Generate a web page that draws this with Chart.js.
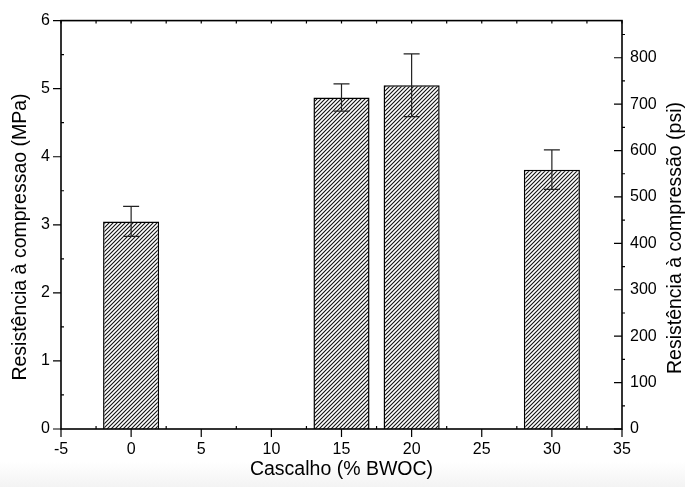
<!DOCTYPE html>
<html lang="pt">
<head>
<meta charset="utf-8">
<title>Resistência à compressão x Cascalho</title>
<script src="https://cdn.jsdelivr.net/npm/chart.js@4.4.1/dist/chart.umd.min.js"></script>
<style>
  html, body { margin: 0; padding: 0; }
  body {
    width: 685px;
    height: 487px;
    background: linear-gradient(#fff 0, #fff 462px, #f3f3f3 487px);
  }
  #chart-wrap { position: relative; width: 685px; height: 487px; }
  #chart-resistencia { display: block; }
</style>
</head>
<body>
<div id="chart-wrap"><canvas id="chart-resistencia" width="685" height="487"></canvas></div>
<script>
// Dados
const cascalho = [0, 15, 20, 30];               // % BWOC
const resistencia = [3.05, 4.87, 5.05, 3.81];   // MPa
const desvio = [0.22, 0.20, 0.46, 0.29];        // MPa (barra de erro)

// Escalas
const xTicks = [-5, 0, 5, 10, 15, 20, 25, 30, 35];
const mpaTicks = [0, 1, 2, 3, 4, 5, 6];
const psiTicks = [0, 100, 200, 300, 400, 500, 600, 700, 800];
const psiMax = 880;

const FONT = '"Liberation Sans", Arial, sans-serif';

/**
 * Hachura diagonal (/) para as barras
 */
function makeHatch() {
  const s = 4;
  const c = document.createElement('canvas');
  c.width = s;
  c.height = s;
  const g = c.getContext('2d');
  g.fillStyle = '#fff';
  g.fillRect(0, 0, s, s);
  g.strokeStyle = '#111';
  g.lineWidth = 1.1;
  g.beginPath();
  g.moveTo(0, s); g.lineTo(s, 0);
  g.moveTo(-1, 1); g.lineTo(1, -1);
  g.moveTo(s - 1, s + 1); g.lineTo(s + 1, s - 1);
  g.stroke();
  return g.createPattern(c, 'repeat');
}

/**
 * Barras de erro
 */
const errorBars = {
  id: 'errorBars',
  afterDatasetsDraw(chart) {
    const { ctx, scales } = chart;
    ctx.save();
    ctx.strokeStyle = '#222';
    ctx.lineWidth = 1.2;
    cascalho.forEach((c, i) => {
      const x = scales.x.getPixelForValue(c);
      const yTop = scales.y.getPixelForValue(resistencia[i] + desvio[i]);
      const yBot = scales.y.getPixelForValue(resistencia[i] - desvio[i]);
      ctx.beginPath();
      ctx.moveTo(x, yTop); ctx.lineTo(x, yBot);
      ctx.moveTo(x - 8, yTop); ctx.lineTo(x + 8, yTop);
      ctx.moveTo(x - 8, yBot); ctx.lineTo(x + 8, yBot);
      ctx.stroke();
    });
    ctx.restore();
  },
};

/**
 * Moldura, marcas dos eixos e títulos
 */
const frame = {
  id: 'frame',
  afterDraw(chart) {
    const { ctx, chartArea: a, scales } = chart;
    const line = (x1, y1, x2, y2) => {
      ctx.moveTo(x1, y1);
      ctx.lineTo(x2, y2);
    };
    ctx.save();
    ctx.strokeStyle = '#000';
    ctx.lineWidth = 1.6;
    ctx.strokeRect(a.left, a.top, a.right - a.left, a.bottom - a.top);

    ctx.lineWidth = 1.2;
    ctx.beginPath();
    // eixo x (baixo e topo)
    xTicks.forEach((v, i) => {
      const x = scales.x.getPixelForValue(v);
      line(x, a.bottom, x, a.bottom + 8);
      line(x, a.top, x, a.top + 3);
      if (i < xTicks.length - 1) {
        const xm = scales.x.getPixelForValue(v + 2.5);
        line(xm, a.bottom, xm, a.bottom - 3);
        line(xm, a.top, xm, a.top + 3);
      }
    });
    // eixo MPa (esquerda)
    mpaTicks.forEach((v, i) => {
      const y = scales.y.getPixelForValue(v);
      line(a.left - 8, y, a.left, y);
      if (i < mpaTicks.length - 1) {
        const ym = scales.y.getPixelForValue(v + 0.5);
        line(a.left, ym, a.left + 3, ym);
      }
    });
    // eixo psi (direita)
    psiTicks.forEach((v) => {
      const y = scales.y2.getPixelForValue(v);
      line(a.right - 8, y, a.right, y);
      const ym = scales.y2.getPixelForValue(v + 50);
      line(a.right, ym, a.right + 3, ym);
    });
    ctx.stroke();

    // títulos
    ctx.fillStyle = '#000';
    ctx.font = `19.5px ${FONT}`;
    ctx.textAlign = 'center';
    ctx.textBaseline = 'alphabetic';
    ctx.fillText('Cascalho (% BWOC)', (a.left + a.right) / 2, 475);

    ctx.save();
    ctx.translate(26, 237);
    ctx.rotate(-Math.PI / 2);
    ctx.fillText('Resistência à compressao (MPa)', 0, 0);
    ctx.restore();

    ctx.save();
    ctx.translate(681, 238);
    ctx.rotate(-Math.PI / 2);
    ctx.fillText('Resistência à compressão (psi)', 0, 0);
    ctx.restore();

    ctx.restore();
  },
};

const tickFont = { family: FONT, size: 16 };

new Chart(document.getElementById('chart-resistencia'), {
  type: 'bar',
  data: {
    datasets: [
      {
        label: 'Resistência à compressão (MPa)',
        data: cascalho.map((c, i) => ({ x: c, y: resistencia[i] })),
        backgroundColor: makeHatch(),
        borderColor: '#000',
        borderWidth: 1.5,
        categoryPercentage: 1.0,
        barPercentage: 0.8,
        yAxisID: 'y',
      },
    ],
  },
  options: {
    responsive: false,
    animation: false,
    events: [],
    layout: { padding: { top: 18, left: 0, right: 0, bottom: 0 } },
    plugins: {
      legend: { display: false },
      tooltip: { enabled: false },
    },
    scales: {
      x: {
        type: 'linear',
        position: 'bottom',
        min: -5,
        max: 35,
        offset: false,
        grid: { display: false, drawTicks: false, offset: false },
        border: { display: false },
        afterBuildTicks: (s) => { s.ticks = xTicks.map((v) => ({ value: v })); },
        afterFit: (s) => { s.height = 58; },
        ticks: { font: tickFont, color: '#000', padding: 11, maxRotation: 0, autoSkip: false },
      },
      y: {
        position: 'left',
        min: 0,
        max: 6,
        grid: { display: false, drawTicks: false },
        border: { display: false },
        afterBuildTicks: (s) => { s.ticks = mpaTicks.map((v) => ({ value: v })); },
        afterFit: (s) => { s.width = 61; },
        ticks: { font: tickFont, color: '#000', padding: 11, autoSkip: false },
      },
      y2: {
        position: 'right',
        min: 0,
        max: psiMax,
        grid: { display: false, drawTicks: false },
        border: { display: false },
        afterBuildTicks: (s) => { s.ticks = psiTicks.map((v) => ({ value: v })); },
        afterFit: (s) => { s.width = 63; },
        ticks: { font: tickFont, color: '#000', padding: 8, autoSkip: false },
      },
    },
  },
  plugins: [errorBars, frame],
});
</script>
</body>
</html>
